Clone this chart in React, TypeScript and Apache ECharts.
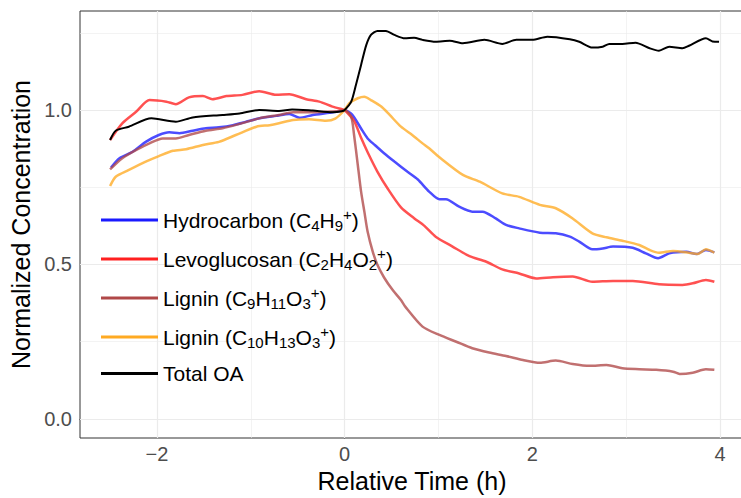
import React, { useEffect, useRef } from "react";
import * as echarts from "echarts";

// ---------- data ----------
const seriesNames = [
  "Hydrocarbon (C4H9+)",
  "Levoglucosan (C2H4O2+)",
  "Lignin (C9H11O3+)",
  "Lignin (C10H13O3+)",
  "Total OA",
];
const legendRichLabels = [
  "{m|Hydrocarbon (C}{sb|4}{m|H}{sb|9}{sp|+}{m|)}",
  "{m|Levoglucosan (C}{sb|2}{m|H}{sb|4}{m|O}{sb|2}{sp|+}{m|)}",
  "{m|Lignin (C}{sb|9}{m|H}{sb|11}{m|O}{sb|3}{sp|+}{m|)}",
  "{m|Lignin (C}{sb|10}{m|H}{sb|13}{m|O}{sb|3}{sp|+}{m|)}",
  "{t|Total OA}",
];
const seriesColors = ["#1a1aff", "#ff2020", "#b04848", "#ffaa22", "#000000"];

const hydrocarbonTime = [
  -2.49, -2.4, -2.26, -2.12, -1.98, -1.87, -1.76, -1.62, -1.48, -1.34, -1.19, -1.05, -0.91, -0.73, -0.59, -0.48,
  -0.34, -0.16, -0.02, 0, 0.08, 0.175, 0.245, 0.32, 0.42, 0.53, 0.67, 0.78, 0.9, 1.01, 1.08, 1.22, 1.36, 1.47,
  1.61, 1.72, 1.86, 2.08, 2.25, 2.4, 2.5, 2.64, 2.75, 2.86, 3.07, 3.21, 3.34, 3.46, 3.64, 3.75, 3.85, 3.94,
];
const hydrocarbonValue = [
  0.814, 0.844, 0.865, 0.897, 0.919, 0.928, 0.925, 0.933, 0.941, 0.944, 0.951, 0.962, 0.973, 0.981, 0.987, 0.975,
  0.984, 0.991, 0.998, 1.0, 0.985, 0.94, 0.908, 0.887, 0.86, 0.833, 0.8, 0.775, 0.736, 0.711, 0.711, 0.687, 0.671, 0.671,
  0.649, 0.628, 0.617, 0.603, 0.601, 0.59, 0.574, 0.549, 0.552, 0.558, 0.554, 0.536, 0.52, 0.536, 0.541, 0.534, 0.547, 0.539,
];

const levoglucosanTime = [
  -2.5, -2.37, -2.22, -2.08, -1.9, -1.8, -1.66, -1.51, -1.41, -1.26, -1.09, -0.91, -0.73, -0.59, -0.41, -0.27,
  -0.13, -0.02, 0, 0.1, 0.175, 0.25, 0.35, 0.46, 0.6, 0.74, 0.85, 0.97, 1.15, 1.33, 1.51, 1.68, 1.86, 2.04, 2.22,
  2.43, 2.64, 2.86, 3.07, 3.35, 3.6, 3.71, 3.85, 3.94,
];
const levoglucosanValue = [
  0.903, 0.957, 0.995, 1.032, 1.027, 1.019, 1.041, 1.045, 1.035, 1.045, 1.049, 1.061, 1.049, 1.051, 1.035, 1.027,
  1.011, 1.002, 1.0, 0.965, 0.91, 0.86, 0.8, 0.745, 0.685, 0.65, 0.625, 0.59, 0.558, 0.527, 0.509, 0.484, 0.471, 0.455, 0.459,
  0.461, 0.444, 0.447, 0.447, 0.436, 0.434, 0.439, 0.45, 0.444,
];

const ligninC9Time = [
  -2.5, -2.37, -2.22, -2.08, -1.94, -1.8, -1.66, -1.48, -1.3, -1.12, -0.91, -0.7, -0.55, -0.34, -0.13, -0.02, 0,
  0.07, 0.1, 0.14, 0.175, 0.21, 0.245, 0.3, 0.35, 0.42, 0.51, 0.6, 0.65, 0.83, 1.01, 1.19, 1.36, 1.54, 1.72, 1.9,
  2.08, 2.25, 2.43, 2.61, 2.79, 2.96, 3.14, 3.32, 3.5, 3.57, 3.71, 3.85, 3.94,
];
const ligninC9Value = [
  0.808, 0.844, 0.871, 0.892, 0.908, 0.908, 0.919, 0.933, 0.941, 0.955, 0.973, 0.984, 0.993, 0.993, 0.995, 0.998, 1.0,
  0.978, 0.92, 0.822, 0.736, 0.671, 0.606, 0.541, 0.498, 0.458, 0.418, 0.385, 0.362, 0.299, 0.272, 0.25, 0.229, 0.215, 0.204, 0.191,
  0.182, 0.189, 0.178, 0.172, 0.175, 0.164, 0.161, 0.159, 0.153, 0.146, 0.15, 0.161, 0.159,
];

const ligninC10Time = [
  -2.5, -2.44, -2.3, -2.12, -1.98, -1.83, -1.69, -1.51, -1.34, -1.16, -0.94, -0.8, -0.7, -0.55, -0.38, -0.2, -0.1,
  0, 0.05, 0.14, 0.21, 0.28, 0.39, 0.48, 0.6, 0.72, 0.83, 0.9, 1.01, 1.26, 1.44, 1.68, 1.86, 2.08, 2.25, 2.43, 2.64,
  2.79, 2.96, 3.14, 3.25, 3.35, 3.5, 3.67, 3.76, 3.85, 3.94,
];
const ligninC10Value = [
  0.754, 0.784, 0.806, 0.833, 0.851, 0.868, 0.873, 0.887, 0.897, 0.919, 0.946, 0.951, 0.957, 0.968, 0.97, 0.965, 0.972,
  1.0, 1.022, 1.038, 1.043, 1.032, 1.011, 0.984, 0.946, 0.919, 0.892, 0.876, 0.847, 0.79, 0.768, 0.73, 0.719, 0.693, 0.682, 0.649, 0.601,
  0.588, 0.577, 0.563, 0.547, 0.538, 0.544, 0.538, 0.534, 0.549, 0.538,
];

const totalOATime = [
  -2.5, -2.44, -2.3, -2.06, -1.8, -1.62, -1.3, -1.12, -0.91, -0.7, -0.56, -0.34, -0.13, -0.03, 0, 0.07, 0.12, 0.175,
  0.23, 0.28, 0.35, 0.44, 0.53, 0.64, 0.74, 0.83, 0.97, 1.12, 1.26, 1.49, 1.68, 1.83, 2.0, 2.16, 2.4, 2.5, 2.64, 2.75,
  2.82, 2.96, 3.1, 3.25, 3.35, 3.46, 3.6, 3.67, 3.85, 3.92, 3.99,
];
const totalOAValue = [
  0.903, 0.933, 0.946, 0.973, 0.962, 0.976, 0.984, 0.989, 1.0, 0.997, 1.002, 0.998, 0.993, 0.996, 1.0, 1.027, 1.081, 1.146,
  1.21, 1.243, 1.256, 1.256, 1.243, 1.232, 1.234, 1.227, 1.221, 1.224, 1.216, 1.227, 1.214, 1.227, 1.227, 1.237, 1.229, 1.221, 1.202, 1.205,
  1.214, 1.214, 1.218, 1.2, 1.192, 1.205, 1.2, 1.208, 1.232, 1.222, 1.221,
];

const seriesTimes = [hydrocarbonTime, levoglucosanTime, ligninC9Time, ligninC10Time, totalOATime];
const seriesValues = [hydrocarbonValue, levoglucosanValue, ligninC9Value, ligninC10Value, totalOAValue];

const xMajorTicks = [-2, 0, 2, 4];
const xMinorTicks = [-1, 1, 3];
const yMajorTicks = [0, 0.5, 1.0];
const yMinorTicks = [0.25, 0.75, 1.25];

const FONT = "'Liberation Sans', Arial, Helvetica, sans-serif";

export default function App() {
  const ref = useRef<HTMLDivElement>(null);
  useEffect(() => {
    if (!ref.current) return;
    const chart = echarts.init(ref.current, undefined, { renderer: "svg" });
    const richByName: Record<string, string> = {};
    seriesNames.forEach((n, i) => (richByName[n] = legendRichLabels[i]));

    const gridSeries = (vx: number[], vy: number[], width: number) => ({
      type: "line",
      data: [],
      silent: true,
      z: 1,
      markLine: {
        silent: true,
        z: 1,
        symbol: ["none", "none"],
        label: { show: false },
        emphasis: { disabled: true },
        animation: false,
        lineStyle: { color: "#ebebeb", width, type: "solid" },
        data: [...vx.map((v) => ({ xAxis: v })), ...vy.map((v) => ({ yAxis: v }))],
      },
    });

    const dataSeries = seriesNames.map((name, i) => ({
      name,
      type: "line",
      data: seriesTimes[i].map((t, j) => [t, seriesValues[i][j]]),
      showSymbol: false,
      symbol: "none",
      smooth: 0.25,
      z: 3,
      color: seriesColors[i],
      lineStyle: { width: i === 4 ? 2 : 2.5, opacity: i === 4 ? 1 : 0.78 },
      emphasis: { disabled: true },
    }));

    chart.setOption({
      animation: false,
      textStyle: { fontFamily: FONT },
      grid: {
        left: 80,
        top: 11,
        bottom: 60,
        right: -3,
        outerBoundsMode: "none",
        containLabel: false,
        show: true,
        borderColor: "#333333",
        borderWidth: 1,
        backgroundColor: "rgba(0,0,0,0)",
      },
      xAxis: {
        type: "value",
        min: -2.8206,
        max: 4.256,
        axisLine: { show: true, lineStyle: { color: "#333333", width: 1 } },
        axisTick: { show: true, customValues: xMajorTicks, length: 5, lineStyle: { color: "#333333" } },
        axisLabel: {
          customValues: xMajorTicks,
          formatter: (v: number) => (v < 0 ? "\u2212" + Math.abs(v) : String(v)),
          color: "#4d4d4d",
          fontSize: 20,
          margin: 6,
          fontFamily: FONT,
        },
        splitLine: { show: false },
        name: "Relative Time (h)",
        nameLocation: "middle",
        nameGap: 30,
        nameTextStyle: { fontSize: 25, color: "#000", fontFamily: FONT },
      },
      yAxis: {
        type: "value",
        min: -0.0615,
        max: 1.3204,
        axisLine: { show: true, lineStyle: { color: "#333333", width: 1 } },
        axisTick: { show: true, customValues: yMajorTicks, length: 5, lineStyle: { color: "#333333" } },
        axisLabel: {
          customValues: yMajorTicks,
          formatter: (v: number) => v.toFixed(1),
          color: "#4d4d4d",
          fontSize: 20,
          margin: 8,
          fontFamily: FONT,
        },
        splitLine: { show: false },
        name: "Normalized Concentration",
        nameLocation: "middle",
        nameGap: 44,
        nameTextStyle: { fontSize: 25, color: "#000", fontFamily: FONT },
      },
      legend: {
        orient: "vertical",
        left: 101,
        top: 207,
        padding: 0,
        itemWidth: 57,
        itemHeight: 3,
        itemGap: 13,
        icon: "rect",
        data: seriesNames,
        selectedMode: false,
        formatter: (name: string) => richByName[name],
        textStyle: {
          color: "#000",
          fontFamily: FONT,
          fontSize: 21,
          rich: {
            m: { fontSize: 21, lineHeight: 26, fontFamily: FONT, color: "#000" },
            sb: { fontSize: 15, lineHeight: 16, verticalAlign: "bottom", fontFamily: FONT, color: "#000" },
            sp: { fontSize: 15, lineHeight: 20, verticalAlign: "top", fontFamily: FONT, color: "#000" },
            t: { fontSize: 21, lineHeight: 20, fontFamily: FONT, color: "#000" },
          },
        },
      },
      series: [
        gridSeries(xMinorTicks, yMinorTicks, 0.6),
        gridSeries(xMajorTicks, yMajorTicks, 1.2),
        ...dataSeries,
      ],
    });
    return () => chart.dispose();
  }, []);
  return (
    <div
      ref={ref}
      style={{ position: "fixed", left: 0, top: 0, width: 741, height: 498, background: "#fff" }}
    />
  );
}
